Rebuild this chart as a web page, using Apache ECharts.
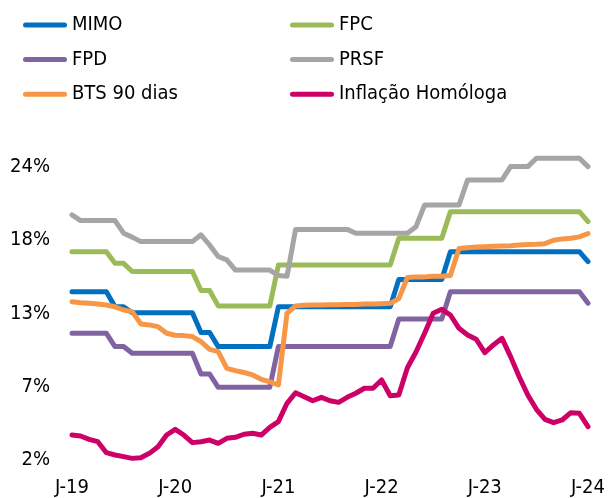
<!DOCTYPE html>
<html>
<head>
<meta charset="utf-8">
<script src="https://cdn.jsdelivr.net/npm/echarts@6/dist/echarts.min.js"></script>
<style>
html,body{margin:0;padding:0;background:#fff;}
#chart{width:612px;height:498px;}
</style>
</head>
<body>
<div id="chart"></div>
<script>
// ---- Data ----
const monthLetters = ['J','F','M','A','M','J','J','A','S','O','N','D'];
const years = ['19','20','21','22','23','24'];
const categories = [];
for (let y = 0; y < years.length; y++) {
  for (let m = 0; m < 12; m++) {
    if (y === years.length - 1 && m > 0) break;
    categories.push(monthLetters[m] + '-' + years[y]);
  }
}
const yTicks = [2, 7.4, 12.8, 18.2, 23.6];

const mimo = [14.4,14.4,14.4,14.4,14.4, 13.3,13.3, 12.86,12.86,12.86,12.86,12.86,12.86,12.86,12.86,
  11.4,11.4, 10.36,10.36,10.36,10.36,10.36,10.36,10.36,
  13.3,13.3,13.3,13.3,13.3,13.3,13.3,13.3,13.3,13.3,13.3,13.3,13.3,13.3,
  15.3,15.3,15.3,15.3,15.3,15.3,
  17.36,17.36,17.36,17.36,17.36,17.36,17.36,17.36,17.36,17.36,17.36,17.36,17.36,17.36,17.36,17.36,
  16.62];
const fpc = [17.36,17.36,17.36,17.36,17.36, 16.5,16.5, 15.9,15.9,15.9,15.9,15.9,15.9,15.9,15.9,
  14.5,14.5, 13.36,13.36,13.36,13.36,13.36,13.36,13.36,
  16.38,16.38,16.38,16.38,16.38,16.38,16.38,16.38,16.38,16.38,16.38,16.38,16.38,16.38,
  18.35,18.35,18.35,18.35,18.35,18.35,
  20.31,20.31,20.31,20.31,20.31,20.31,20.31,20.31,20.31,20.31,20.31,20.31,20.31,20.31,20.31,20.31,
  19.57];
const fpd = [11.34,11.34,11.34,11.34,11.34, 10.36,10.36, 9.87,9.87,9.87,9.87,9.87,9.87,9.87,9.87,
  8.34,8.34, 7.36,7.36,7.36,7.36,7.36,7.36,7.36,
  10.36,10.36,10.36,10.36,10.36,10.36,10.36,10.36,10.36,10.36,10.36,10.36,10.36,10.36,
  12.4,12.4,12.4,12.4,12.4,12.4,
  14.41,14.41,14.41,14.41,14.41,14.41,14.41,14.41,14.41,14.41,14.41,14.41,14.41,14.41,14.41,14.41,
  13.56];
const prsf = [20.07, 19.65,19.65,19.65,19.65,19.65, 18.72, 18.43,
  18.1,18.1,18.1,18.1,18.1,18.1,18.1, 18.6, 17.85, 17.0, 16.75,
  16.0,16.0,16.0,16.0,16.0, 15.6, 15.55,
  19.0,19.0,19.0,19.0,19.0,19.0,19.0,
  18.72,18.72,18.72,18.72,18.72,18.72,18.72, 19.2,
  20.8,20.8,20.8,20.8,20.8, 22.65,22.65,22.65,22.65,22.65,
  23.63,23.63,23.63, 24.25,24.25,24.25,24.25,24.25,24.25, 23.63];
const bts = [13.67,13.6,13.55,13.5,13.43,13.3,13.06,12.94,12.03,11.96,11.83,11.34,11.2,11.17,11.1,
  10.72,10.16,9.99,8.76,8.59,8.45,8.27,7.95,7.77,7.53,12.82,13.36,13.4,13.42,13.43,13.45,13.45,
  13.47,13.47,13.5,13.5,13.52,13.55,13.9,15.45,15.5,15.5,15.55,15.55,15.6,17.6,17.65,17.7,17.72,
  17.75,17.78,17.8,17.85,17.88,17.9,17.95,18.2,18.3,18.35,18.45,18.7];
const inflacao = [3.84,3.77,3.52,3.35,2.54,2.37,2.25,2.12,2.17,2.49,2.98,3.84,4.26,3.84,3.28,3.35,
  3.47,3.23,3.6,3.67,3.9,3.97,3.84,4.41,4.83,6.18,6.96,6.67,6.37,6.62,6.37,6.25,6.62,6.92,7.29,
  7.29,7.9,6.74,6.79,8.8,9.96,11.34,12.82,13.11,12.69,11.71,11.22,10.9,9.91,10.48,10.97,9.62,
  8.14,6.79,5.74,5.0,4.75,4.95,5.49,5.44,4.46];

const seriesDefs = [
  {name: 'MIMO', data: mimo, color: '#0070C0'},
  {name: 'FPC', data: fpc, color: '#9BBB59'},
  {name: 'FPD', data: fpd, color: '#8064A2'},
  {name: 'PRSF', data: prsf, color: '#A5A5A5'},
  {name: 'BTS 90 dias', data: bts, color: '#F79646'},
  {name: 'Inflação Homóloga', data: inflacao, color: '#CC0066'}
];

const FONT = '"DejaVu Sans Condensed", "DejaVu Sans", sans-serif';
const icon = 'path://M2.5,0 L41.5,0 A2.5,2.5 0 0 1 41.5,5 L2.5,5 A2.5,2.5 0 0 1 2.5,0 Z';
const legendCommon = {
  orient: 'vertical',
  top: 14,
  padding: 0,
  icon: icon,
  itemWidth: 44,
  itemHeight: 5,
  itemGap: 12.6,
  textStyle: {fontFamily: FONT, fontSize: 20, color: '#000', lineHeight: 22},
  selectedMode: false
};

const chart = echarts.init(document.getElementById('chart'), null, {renderer: 'canvas'});
chart.setOption({
  animation: false,
  backgroundColor: '#fff',
  legend: [
    Object.assign({left: 23, data: ['MIMO', 'FPD', 'BTS 90 dias']}, legendCommon),
    Object.assign({left: 290, data: ['FPC', 'PRSF', 'Inflação Homóloga']}, legendCommon)
  ],
  grid: {left: 72, right: 24, top: 167, bottom: 38, containLabel: false},
  xAxis: {
    type: 'category',
    data: categories,
    boundaryGap: false,
    axisLine: {show: false},
    axisTick: {show: false},
    splitLine: {show: false},
    axisLabel: {
      interval: (idx) => idx % 12 === 0,
      margin: 18,
      fontFamily: FONT, fontSize: 20, color: '#000'
    }
  },
  yAxis: {
    type: 'value',
    min: yTicks[0],
    max: yTicks[yTicks.length - 1],
    interval: yTicks[1] - yTicks[0],
    axisLine: {show: false},
    axisTick: {show: false},
    splitLine: {show: false},
    axisLabel: {
      margin: 22,
      fontFamily: FONT, fontSize: 20, color: '#000',
      formatter: (v) => Math.round(v) + '%'
    }
  },
  series: seriesDefs.map(s => ({
    name: s.name,
    type: 'line',
    data: s.data,
    showSymbol: false,
    symbol: 'none',
    clip: false,
    color: s.color,
    lineStyle: {width: 5, color: s.color, cap: 'round', join: 'round'}
  }))
});
</script>
</body>
</html>
